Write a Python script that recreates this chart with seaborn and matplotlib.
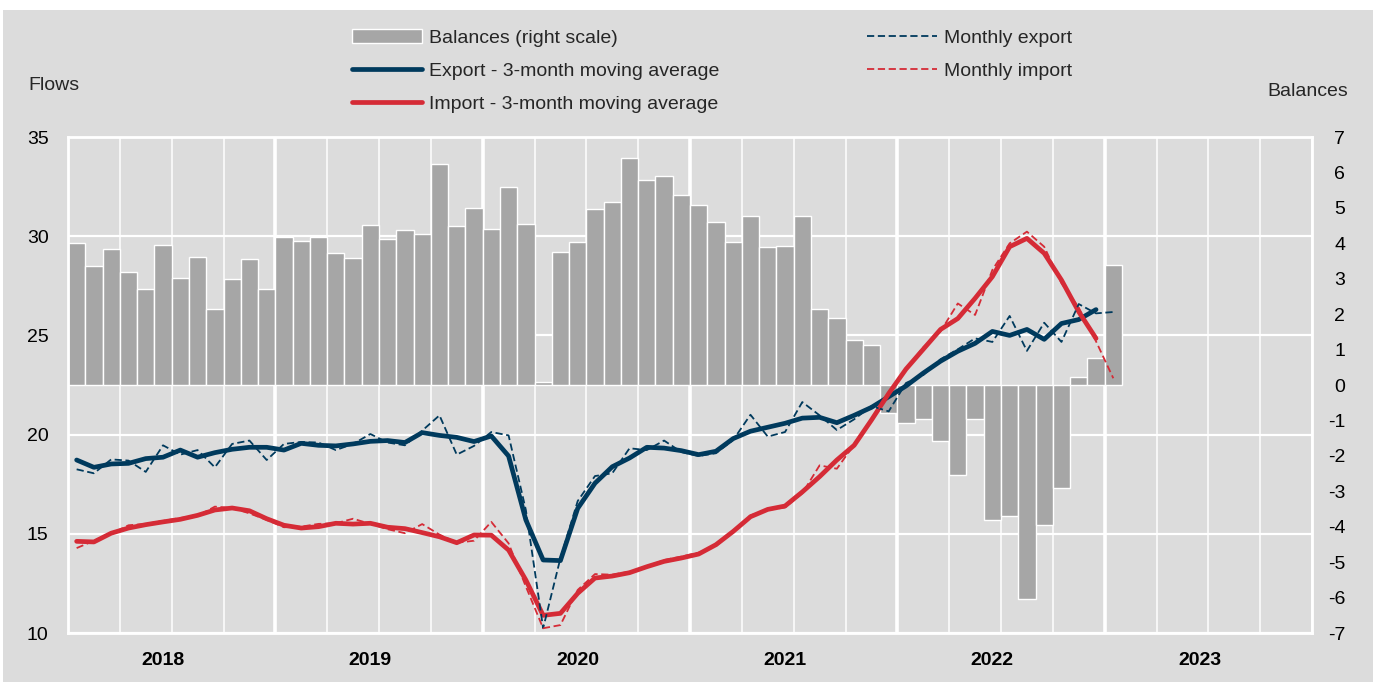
import numpy as np
import pandas as pd
import matplotlib
matplotlib.use('Agg')
import matplotlib.pyplot as plt
from matplotlib import font_manager
from matplotlib.patches import Rectangle, Patch
from matplotlib.lines import Line2D
import seaborn as sns

# monthly data, Jan 2018 - Jan 2023
months = pd.date_range('2018-01-01', periods=61, freq='MS')

balances = [4.00, 3.36, 3.83, 3.18, 2.70, 3.94, 3.02, 3.60, 2.15, 2.98, 3.55, 2.71,
            4.17, 4.07, 4.19, 3.73, 3.59, 4.51, 4.11, 4.38, 4.25, 6.25, 4.48, 4.99,
            4.39, 5.58, 4.55, 0.08, 3.74, 4.04, 4.97, 5.16, 6.41, 5.79, 5.90, 5.36,
            5.08, 4.61, 4.05, 4.76, 3.90, 3.91, 4.78, 2.15, 1.88, 1.27, 1.12, -0.80,
            -1.06, -0.95, -1.57, -2.53, -0.96, -3.81, -3.70, -6.05, -3.96, -2.91, 0.22, 0.76,
            3.40]

export_ma = [18.72, 18.35, 18.52, 18.55, 18.79, 18.86, 19.22, 18.86, 19.09, 19.26, 19.36, 19.36,
             19.22, 19.56, 19.46, 19.43, 19.53, 19.66, 19.70, 19.60, 20.10, 19.96, 19.86, 19.65,
             19.93, 18.92, 15.70, 13.68, 13.65, 16.28, 17.55, 18.38, 18.82, 19.36, 19.32, 19.19,
             18.99, 19.16, 19.80, 20.17, 20.37, 20.57, 20.83, 20.87, 20.60, 20.97, 21.37, 21.91,
             22.45, 23.10, 23.70, 24.20, 24.60, 25.20, 25.00, 25.30, 24.80, 25.60, 25.80, 26.30]

export_monthly = [18.25, 18.05, 18.75, 18.69, 18.12, 19.46, 18.99, 19.22, 18.35, 19.53, 19.70, 18.72,
                  19.53, 19.63, 19.60, 19.22, 19.53, 20.03, 19.60, 19.46, 20.20, 20.97, 18.99, 19.43,
                  20.13, 19.96, 16.20, 10.24, 13.77, 16.65, 17.91, 18.05, 19.31, 19.22, 19.70, 19.12,
                  18.92, 19.06, 19.73, 21.00, 19.90, 20.13, 21.64, 20.97, 20.23, 20.77, 21.44, 21.17,
                  22.60, 23.00, 23.80, 24.30, 24.85, 24.67, 25.98, 24.22, 25.64, 24.67, 26.58, 26.11,
                  26.18]

import_ma = [14.62, 14.59, 15.03, 15.29, 15.46, 15.60, 15.73, 15.93, 16.20, 16.30, 16.16, 15.76,
             15.43, 15.29, 15.36, 15.53, 15.49, 15.53, 15.33, 15.26, 15.06, 14.85, 14.55, 14.94,
             14.93, 14.18, 12.67, 10.89, 10.99, 12.00, 12.77, 12.87, 13.04, 13.34, 13.61, 13.78,
             13.98, 14.45, 15.12, 15.86, 16.23, 16.40, 17.11, 17.88, 18.72, 19.46, 20.73, 22.07,
             23.30, 24.30, 25.30, 25.85, 26.87, 27.96, 29.47, 29.89, 29.14, 27.79, 26.19, 24.85]

import_monthly = [14.28, 14.65, 15.00, 15.43, 15.50, 15.65, 15.80, 15.90, 16.37, 16.30, 16.03, 15.70,
                  15.33, 15.36, 15.50, 15.53, 15.76, 15.50, 15.23, 15.03, 15.49, 14.96, 14.55, 14.65,
                  15.60, 14.52, 12.34, 10.24, 10.40, 12.17, 12.97, 12.94, 13.09, 13.34, 13.68, 13.85,
                  14.05, 14.38, 15.11, 15.93, 16.20, 16.33, 17.04, 18.45, 18.28, 19.49, 20.73, 22.07,
                  23.30, 24.40, 25.20, 26.61, 26.03, 28.30, 29.64, 30.23, 29.47, 27.63, 26.40, 24.70,
                  22.84]

years = [2018, 2019, 2020, 2021, 2022, 2023]

BG = '#dcdcdc'
NAVY = '#003a5d'
RED = '#d52b36'
BAR = '#a6a6a6'

sns.set_theme(style='white')

# narrow font if there is one, otherwise regular Liberation Sans
try:
    font_manager.findfont('Liberation Sans Narrow', fallback_to_default=False)
    FONT, FS, LSP, HL, CSP, TOP = 'Liberation Sans Narrow', 17, 0.5, 3.0, 6.3, 27
except ValueError:
    FONT, FS, LSP, HL, CSP, TOP = 'Liberation Sans', 14, 0.8, 3.6, 7.6, 29
plt.rcParams['font.family'] = [FONT, 'DejaVu Sans']
plt.rcParams['axes.unicode_minus'] = False

# month index from Jan 2018
mi = np.asarray((months.year - 2018) * 12 + months.month - 1)

fig = plt.figure(figsize=(13.73, 6.82), dpi=100)
fig.patch.set_facecolor('white')
fig.patches.append(Rectangle((0.002, 0), 0.998, 1 - 10 / 682, transform=fig.transFigure,
                             facecolor=BG, edgecolor='none', zorder=-10))

ax = fig.add_axes([68 / 1373, 1 - 633 / 682, (1312 - 68) / 1373, (633 - 137) / 682])
ax.set_facecolor(BG)
axb = ax.twinx()
axl = ax.twinx()

# bars on right scale
sns.barplot(x=mi, y=balances, native_scale=True, orient='x', width=1.0, color=BAR,
            saturation=1, edgecolor='white', linewidth=1, ax=axb)

# lines on left scale
dash = (0, (4, 2))
sns.lineplot(x=mi[:60], y=export_ma, color=NAVY, linewidth=3.4, ax=axl)
sns.lineplot(x=mi[:60], y=import_ma, color=RED, linewidth=3.4, ax=axl)
sns.lineplot(x=mi, y=export_monthly, color=NAVY, linewidth=1.3, linestyle=dash, ax=axl)
sns.lineplot(x=mi, y=import_monthly, color=RED, linewidth=1.3, linestyle=dash, ax=axl)

ax.set_xlim(-0.5, len(years) * 12 - 0.5)
ax.set_ylim(10, 35)
axl.set_ylim(10, 35)
axb.set_ylim(-7, 7)

# gridlines: quarters thin, years thick
ax.set_yticks(range(10, 36, 5))
ax.set_xticks(np.arange(len(years)) * 12 + 5)
ax.set_xticklabels([str(y) for y in years], fontweight='bold', fontsize=FS)
ax.set_xticks(np.arange(0, len(years) * 12 + 1, 3) - 0.5, minor=True)
ax.grid(axis='y', which='major', color='white', linewidth=1.6)
ax.grid(axis='x', which='minor', color='white', linewidth=1.1)
ax.grid(axis='x', which='major', visible=False)
for k in range(1, len(years)):
    ax.axvline(k * 12 - 0.5, color='white', linewidth=2.6, zorder=0.6)

ax.tick_params(axis='y', labelsize=FS, pad=14, length=0, labelcolor='black')
ax.tick_params(axis='x', which='both', length=0, pad=14, labelcolor='black')

bticks = list(range(-7, 8))
axb.set_yticks(bticks, labels=[str(t) for t in bticks], ha='right', fontsize=FS)
axb.tick_params(axis='y', pad=24, length=0, labelcolor='black')

axl.tick_params(axis='y', right=False, labelright=False, length=0)
for a in (ax, axb, axl):
    a.set_xlabel('')
    a.set_ylabel('')
for a in (ax, axb):
    for s in a.spines.values():
        s.set_visible(False)
for s in axl.spines.values():
    s.set_color('white')
    s.set_linewidth(2)

fig.text(28 / 1373, 1 - 86 / 682, 'Flows', ha='left', va='center', fontsize=FS)
fig.text(1348 / 1373, 1 - 91 / 682, 'Balances', ha='right', va='center', fontsize=FS)

handles = [Patch(facecolor=BAR, edgecolor='white', linewidth=1),
           Line2D([], [], color=NAVY, linewidth=3.4),
           Line2D([], [], color=RED, linewidth=3.4),
           Line2D([], [], color=NAVY, linewidth=1.3, linestyle=dash),
           Line2D([], [], color=RED, linewidth=1.3, linestyle=dash)]
labels = ['Balances (right scale)', 'Export - 3-month moving average',
          'Import - 3-month moving average', 'Monthly export', 'Monthly import']
fig.legend(handles, labels, ncol=2, loc='upper left', bbox_to_anchor=(352 / 1373, 1 - TOP / 682),
           frameon=False, fontsize=FS, handlelength=HL, handletextpad=0.35, columnspacing=CSP,
           labelspacing=LSP, borderpad=0, borderaxespad=0)

fig.savefig('out.png', dpi=100, facecolor=fig.get_facecolor())
